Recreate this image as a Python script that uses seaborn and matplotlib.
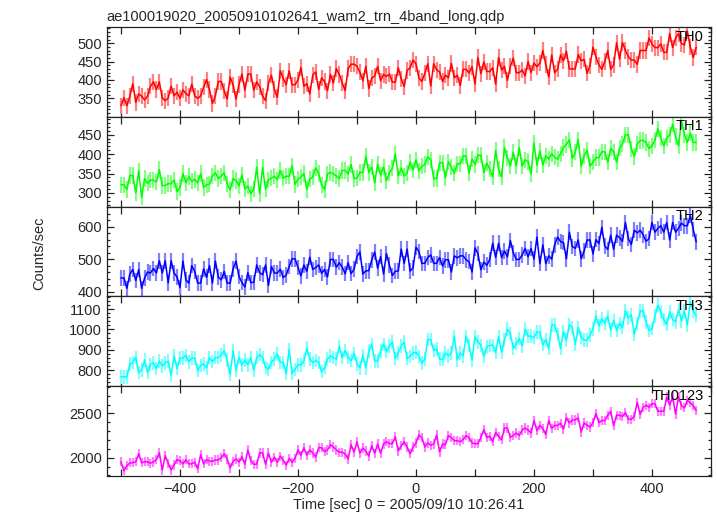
import matplotlib
matplotlib.use('Agg')
import matplotlib.pyplot as plt
from matplotlib.ticker import MultipleLocator
import numpy as np
import pandas as pd
import seaborn as sns

# ── data (counts/sec, 5 s bins starting at -500 s) ──────────
title = 'ae100019020_20050910102641_wam2_trn_4band_long.qdp'
bands = ['TH0', 'TH1', 'TH2', 'TH3', 'TH0123']
t_start, t_bin = -500, 5

th0 = [330, 352, 330, 356, 390, 339, 362, 356, 346, 356,
       383, 395, 374, 395, 351, 344, 351, 383, 357, 367,
       350, 373, 363, 357, 389, 357, 350, 357, 380, 401,
       374, 336, 357, 396, 396, 370, 348, 408, 387, 348,
       388, 416, 372, 416, 416, 372, 395, 382, 356, 344,
       391, 413, 374, 353, 425, 404, 387, 425, 387, 387,
       400, 434, 383, 390, 362, 413, 422, 374, 406, 396,
       371, 415, 392, 431, 415, 392, 371, 431, 443, 443,
       437, 421, 398, 437, 377, 405, 411, 437, 398, 415,
       410, 416, 394, 394, 433, 403, 382, 426, 433, 454,
       444, 405, 396, 418, 444, 384, 444, 428, 422, 396,
       413, 406, 445, 406, 413, 385, 429, 429, 419, 436,
       389, 461, 417, 449, 423, 423, 433, 389, 461, 427,
       437, 399, 437, 459, 420, 420, 427, 411, 450, 420,
       446, 436, 446, 480, 442, 408, 468, 420, 429, 468,
       452, 478, 430, 430, 430, 469, 452, 456, 418, 439,
       489, 463, 441, 429, 450, 480, 429, 441, 501, 457,
       502, 480, 463, 454, 454, 442, 480, 480, 480, 514,
       498, 488, 488, 498, 475, 475, 526, 488, 514, 526,
       499, 495, 533, 489, 461, 489]

th1 = [321, 321, 309, 345, 345, 301, 357, 289, 337, 325,
       333, 333, 328, 360, 319, 319, 324, 324, 333, 304,
       314, 350, 326, 342, 330, 335, 326, 350, 314, 321,
       323, 344, 352, 337, 344, 352, 323, 308, 337, 332,
       318, 346, 310, 318, 298, 310, 366, 298, 366, 310,
       334, 338, 343, 334, 358, 338, 343, 343, 370, 322,
       336, 341, 350, 309, 336, 341, 365, 350, 321, 309,
       349, 353, 349, 344, 337, 358, 358, 349, 373, 337,
       338, 353, 353, 394, 353, 367, 326, 374, 346, 367,
       332, 352, 364, 400, 344, 364, 344, 352, 380, 359,
       385, 357, 369, 373, 393, 385, 337, 337, 378, 378,
       339, 380, 366, 351, 375, 375, 395, 395, 351, 387,
       373, 397, 397, 353, 377, 361, 341, 409, 361, 341,
       417, 390, 369, 405, 369, 417, 369, 385, 381, 349,
       428, 372, 408, 372, 396, 387, 401, 392, 387, 401,
       417, 425, 437, 389, 405, 437, 369, 396, 410, 369,
       379, 391, 391, 406, 406, 379, 415, 406, 379, 415,
       426, 450, 450, 414, 394, 426, 435, 435, 430, 414,
       421, 436, 465, 441, 421, 441, 450, 477, 445, 421,
       486, 450, 430, 454, 430, 430]

th2 = [442, 442, 410, 454, 468, 434, 468, 410, 442, 460,
       457, 471, 457, 495, 457, 495, 427, 495, 457, 445,
       412, 494, 436, 426, 480, 462, 426, 426, 470, 444,
       480, 426, 494, 444, 436, 462, 426, 426, 470, 494,
       446, 428, 414, 458, 428, 428, 482, 458, 452, 482,
       419, 477, 457, 457, 469, 443, 451, 477, 501, 501,
       474, 448, 482, 462, 506, 468, 474, 482, 456, 468,
       445, 499, 499, 475, 489, 475, 455, 489, 455, 469,
       508, 522, 454, 464, 464, 498, 522, 472, 508, 454,
       517, 481, 449, 463, 463, 531, 487, 531, 463, 473,
       537, 523, 487, 487, 505, 513, 487, 487, 505, 479,
       498, 498, 460, 510, 504, 510, 510, 498, 492, 460,
       535, 517, 467, 491, 481, 499, 549, 505, 549, 505,
       525, 507, 557, 519, 499, 499, 513, 533, 507, 533,
       500, 568, 486, 544, 486, 510, 500, 544, 568, 554,
       551, 501, 583, 539, 533, 559, 501, 525, 559, 559,
       516, 560, 548, 598, 540, 530, 574, 530, 574, 566,
       555, 613, 563, 545, 589, 581, 589, 575, 555, 563,
       613, 583, 595, 603, 583, 613, 559, 613, 583, 595,
       611, 603, 603, 635, 591, 553]

th3 = [767, 767, 767, 829, 837, 863, 787, 801, 849, 787,
       828, 836, 808, 844, 820, 836, 844, 774, 870, 808,
       859, 859, 873, 839, 859, 859, 797, 823, 831, 811,
       861, 841, 861, 861, 875, 895, 849, 779, 895, 799,
       862, 826, 850, 826, 862, 800, 862, 876, 862, 814,
       804, 838, 854, 880, 838, 838, 784, 900, 784, 804,
       826, 826, 846, 908, 854, 838, 846, 838, 792, 812,
       854, 870, 862, 854, 916, 862, 896, 862, 846, 882,
       831, 811, 873, 811, 893, 927, 845, 845, 893, 927,
       892, 918, 938, 856, 884, 918, 938, 856, 868, 884,
       888, 868, 834, 854, 950, 950, 896, 904, 854, 854,
       884, 870, 884, 966, 850, 884, 870, 966, 920, 850,
       964, 938, 922, 868, 914, 922, 922, 888, 964, 888,
       947, 1001, 981, 905, 931, 955, 919, 1001, 967, 967,
       959, 987, 987, 925, 951, 905, 1021, 1021, 975, 905,
       989, 947, 1023, 1009, 927, 1009, 961, 947, 947, 973,
       1002, 1064, 1018, 1052, 1030, 1064, 996, 1044, 994, 1030,
       1009, 1091, 1057, 1071, 975, 1029, 1091, 1091, 1037, 995,
       1003, 1065, 1119, 1085, 1049, 1023, 1085, 1049, 1037, 1099,
       1041, 1091, 1021, 1137, 1091, 1067]

th0123 = [1954, 1852, 1908, 1942, 1942, 1954, 2044, 1942, 1954, 1954,
          1938, 1952, 1978, 2054, 1862, 2022, 1938, 1862, 1918, 1978,
          1964, 1930, 1976, 1930, 1930, 1950, 1874, 2034, 1930, 1976,
          1960, 1960, 1974, 1974, 2000, 2044, 1986, 1884, 1960, 1986,
          1950, 2010, 1926, 2086, 1970, 1926, 1926, 2054, 2054, 1926,
          2052, 1948, 2006, 1948, 2018, 1970, 1916, 1992, 1948, 1992,
          2088, 2028, 2112, 2028, 2088, 2054, 2008, 2112, 2112, 2068,
          2088, 2146, 2122, 2088, 2062, 2062, 2042, 1986, 2146, 2062,
          2179, 2051, 2109, 2075, 2019, 2135, 2051, 2155, 2051, 2155,
          2180, 2160, 2160, 2236, 2076, 2134, 2180, 2120, 2044, 2120,
          2167, 2257, 2225, 2121, 2167, 2141, 2155, 2257, 2065, 2155,
          2146, 2250, 2226, 2192, 2192, 2180, 2206, 2250, 2226, 2166,
          2158, 2158, 2228, 2318, 2228, 2242, 2182, 2286, 2242, 2202,
          2336, 2336, 2232, 2252, 2278, 2252, 2312, 2336, 2312, 2278,
          2421, 2305, 2365, 2331, 2261, 2421, 2331, 2365, 2365, 2389,
          2323, 2451, 2393, 2427, 2427, 2451, 2291, 2393, 2367, 2347,
          2396, 2500, 2396, 2420, 2420, 2480, 2524, 2364, 2480, 2480,
          2466, 2510, 2434, 2434, 2466, 2626, 2490, 2570, 2594, 2570,
          2610, 2610, 2526, 2526, 2526, 2686, 2596, 2686, 2494, 2686,
          2587, 2563, 2647, 2621, 2587, 2531]

# 1-sigma errors per band (counts/sec)
errors = [22, 21, 24, 33, 52]

# axis ranges / tick labels
x_range = (-524, 500)
y_ranges = [(300, 544), (265, 496), (385, 662), (721, 1162), (1793, 2808)]
y_ticks = [[350, 400, 450, 500], [300, 350, 400, 450], [400, 500, 600],
           [800, 900, 1000, 1100], [2000, 2500]]
y_minor = [10, 10, 20, 20, 100]

colors = ['#ff0000', '#00ff00', '#0000ff', '#00ffff', '#ff00ff']
err_colors = ['#ff8080', '#80ff80', '#8080ff', '#80ffff', '#ff80ff']

# ── figure ──────────────────────────────────────────────────
sns.set_style('ticks')
plt.rcParams['font.family'] = ['Liberation Sans', 'DejaVu Sans']

fig, axes = plt.subplots(5, 1, figsize=(7.17, 5.16), dpi=100, sharex=True)
fig.subplots_adjust(left=0.149, right=0.9916, top=0.9477, bottom=0.0775, hspace=0)

for i, (ax, vals) in enumerate(zip(axes, [th0, th1, th2, th3, th0123])):
    df = pd.DataFrame({'time': t_start + t_bin * np.arange(len(vals)),
                       'rate': vals})
    # error bars in the lighter shade, light curve on top
    ax.vlines(df['time'], df['rate'] - errors[i], df['rate'] + errors[i],
              color=err_colors[i], lw=1.6)
    sns.lineplot(data=df, x='time', y='rate', ax=ax, color=colors[i],
                 linewidth=1.1, estimator=None)
    ax.set_xlim(*x_range)
    ax.set_ylim(*y_ranges[i])
    ax.set_yticks(y_ticks[i])
    ax.yaxis.set_minor_locator(MultipleLocator(y_minor[i]))
    ax.xaxis.set_major_locator(MultipleLocator(200))
    ax.xaxis.set_minor_locator(MultipleLocator(100))
    ax.tick_params(which='both', direction='in', top=True, right=True,
                   labelsize=10.5, width=0.9, color='#222222')
    ax.tick_params(axis='x', which='both', length=5, pad=4)
    ax.tick_params(axis='y', which='major', length=5)
    ax.tick_params(axis='y', which='minor', length=2.5)
    ax.set_xlabel('')
    ax.set_ylabel('')
    for s in ax.spines.values():
        s.set_linewidth(0.9)
        s.set_color('#222222')
    ax.text(0.988, 0.97, bands[i], transform=ax.transAxes, ha='right',
            va='top', fontsize=10.5, color='black')

axes[0].set_title(title, loc='left', fontsize=10.5, pad=4)
axes[-1].set_xlabel('Time [sec] 0 = 2005/09/10 10:26:41', fontsize=10.5, labelpad=2)
fig.text(0.055, 0.51, 'Counts/sec', rotation=90, ha='center', va='center',
         fontsize=10.5)

plt.savefig('out.png', dpi=100)
plt.close()
